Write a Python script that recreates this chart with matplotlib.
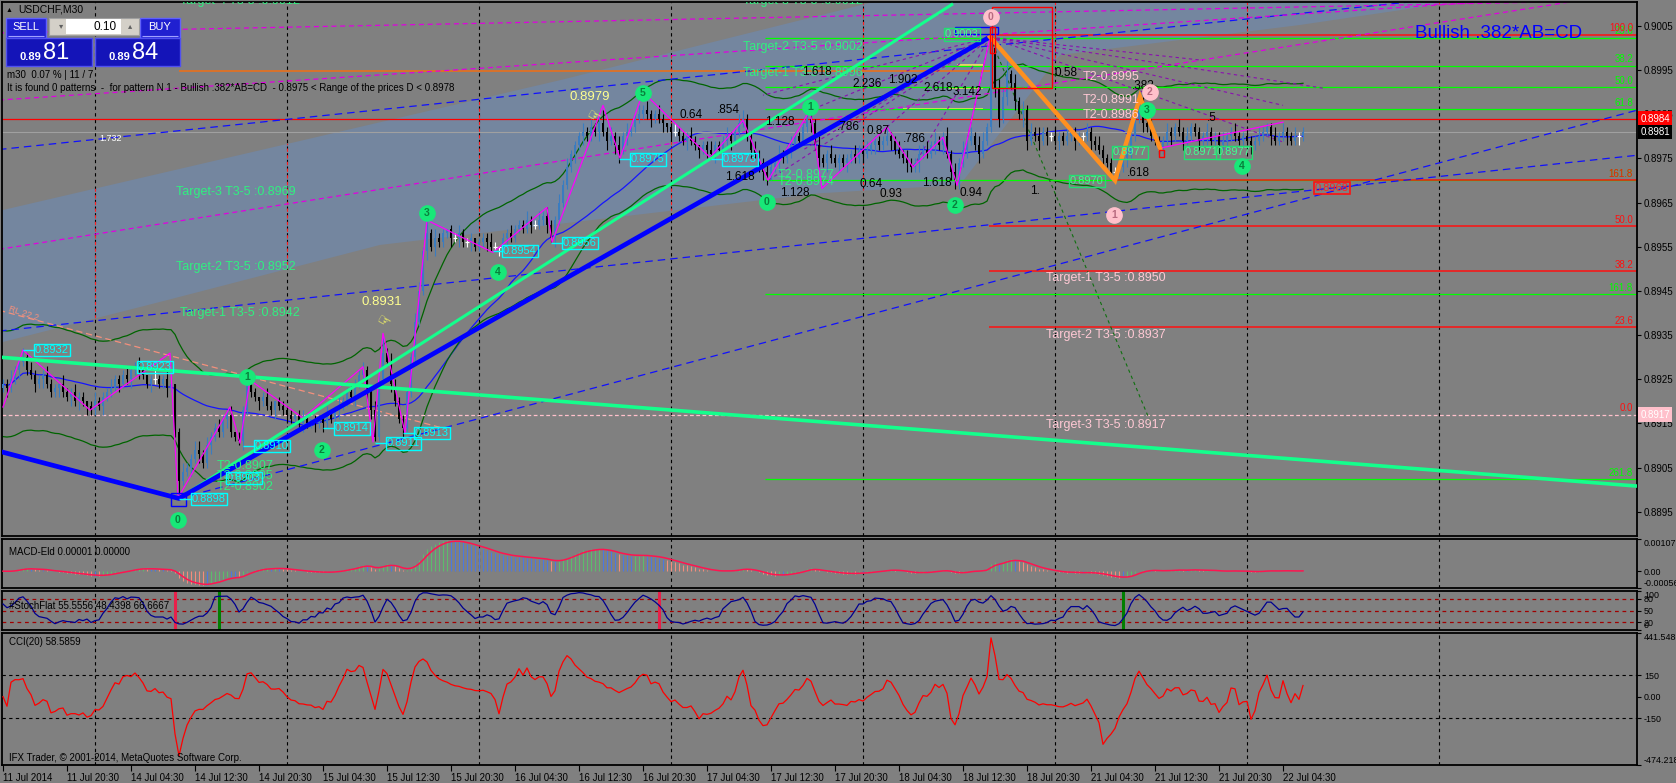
import numpy as np
import pandas as pd
import matplotlib
matplotlib.use("Agg")
import matplotlib.pyplot as plt
import matplotlib.transforms as mtrans
from matplotlib.patches import Rectangle, Polygon

plt.rcParams['font.family'] = ['Liberation Sans', 'DejaVu Sans']

W, H = 1676, 783
BG = '#808080'

# USDCHF M30, one bar each from 11 Jul 12:30 to 22 Jul 07:00, close in pips above 0.8900
close_pips = [
    24, 23, 25, 27, 29, 30, 27, 26, 24, 25,
    26, 24, 22, 23, 24, 22, 21, 22, 20, 21,
    20, 19, 18, 20, 19, 21, 22, 23, 25, 24,
    26, 25, 27, 28, 27, 26, 24, 25, 25, 24,
    25, 23, 24, 13, 2, 4, 5, 7, 9, 8,
    6, 10, 12, 14, 13, 16, 17, 13, 12, 11,
    18, 24, 22, 21, 20, 21, 19, 18, 20, 19,
    18, 17, 16, 17, 15, 16, 15, 16, 15, 16,
    15, 17, 16, 18, 19, 20, 22, 21, 24, 26,
    27, 22, 18, 12, 25, 31, 29, 24, 20, 16,
    14, 22, 30, 38, 45, 54, 58, 55, 57, 56,
    58, 59, 57, 57, 58, 56, 56, 57, 55, 56,
    57, 56, 55, 55, 55, 57, 58, 57, 59, 60,
    59, 61, 60, 60, 61, 62, 60, 57, 61, 65,
    69, 73, 76, 78, 80, 81, 80, 82, 81, 83,
    81, 79, 80, 78, 77, 80, 81, 82, 84, 85,
    86, 85, 84, 85, 84, 83, 82, 81, 81, 80,
    79, 80, 79, 78, 77, 78, 77, 76, 78, 77,
    79, 80, 79, 81, 83, 84, 80, 77, 76, 74,
    72, 71, 73, 74, 76, 75, 77, 78, 80, 79,
    82, 84, 83, 78, 75, 74, 76, 75, 74, 75,
    74, 75, 76, 75, 77, 76, 77, 78, 79, 78,
    79, 80, 79, 77, 76, 75, 74, 73, 74, 76,
    77, 76, 78, 79, 78, 80, 76, 72, 70, 74,
    77, 79, 80, 78, 76, 79, 82, 100, 91, 84,
    89, 94, 92, 88, 85, 86, 79, 81, 80, 79,
    81, 80, 80, 79, 80, 79, 80, 81, 79, 80,
    80, 81, 79, 78, 77, 75, 74, 72, 72, 73,
    75, 76, 80, 84, 86, 83, 82, 80, 79, 77,
    79, 81, 80, 82, 81, 79, 80, 82, 81, 79,
    80, 81, 79, 80, 78, 79, 80, 81, 80, 79,
    80, 79, 78, 79, 80, 81, 82, 80, 79, 80,
    81, 80, 79, 80, 80, 81,
]
first_open_pips = 23
# upper / lower shadow of each bar in pips
wick_up = ("1121121211" "1211021121" "1012111211" "1211210121" "1210121122"
           "1211211201" "1211012101" "1110121011" "1211211211" "2112141211"
           "1112213121" "1011211101" "1121011211" "1211212112" "1211121212"
           "3121212112" "1211210121" "1121011211" "1211221121" "1211211211"
           "1221211211" "1112112111" "1211212112" "1212112121" "2121221312"
           "2312121212" "1112112111" "1211211112" "1211231211" "1211212111"
           "1211121121" "1211211121" "211211")
wick_dn = ("1211211121" "2111211212" "1211121112" "1121211211" "1211411212"
           "1121112111" "2111211121" "1211121121" "2111211121" "1221121211"
           "2111112121" "1121211211" "1211212111" "1121112121" "1112121112"
           "1212312111" "1121121211" "1211212121" "1121111212" "2211211211"
           "1121212112" "1211121121" "1121112112" "1112121222" "1211211122"
           "1212132112" "1211211121" "1121121121" "1211121111" "1121121112"
           "1211212111" "1121111211" "121121")

date_pos = list(range(0, 321, 16))
date_labels = ['11 Jul 2014', '11 Jul 20:30', '14 Jul 04:30', '14 Jul 12:30', '14 Jul 20:30',
               '15 Jul 04:30', '15 Jul 12:30', '15 Jul 20:30', '16 Jul 04:30', '16 Jul 12:30',
               '16 Jul 20:30', '17 Jul 04:30', '17 Jul 12:30', '17 Jul 20:30', '18 Jul 04:30',
               '18 Jul 12:30', '18 Jul 20:30', '21 Jul 04:30', '21 Jul 12:30', '21 Jul 20:30',
               '22 Jul 04:30']
day_lines = [23, 71, 119, 167, 215, 263, 311, 359]
price_ticks = [0.9005, 0.8995, 0.8985, 0.8975, 0.8965, 0.8955, 0.8945, 0.8935, 0.8925, 0.8915, 0.8905, 0.8895]

# drawn objects, (bar, price)
band_i = [-1, 75, 139.25, 224.25, 374.25, 324.25, 264.25, 239.25, 204.25, 94.25, 41, -1]
band_p = [0.89631, 0.89791, 0.89927, 0.90119, 0.90119, 0.90052, 0.89984, 0.89690, 0.89671, 0.89554, 0.89429, 0.89332]
ab_i, ab_p = [-1, 44, 246.75], [0.89087, 0.8898, 0.90025]
cd_i, cd_p = [246.75, 278, 284.25, 289.25], [0.90025, 0.8970, 0.89889, 0.89773]
green_dn_i, green_dn_p = [-1, 408.5], [0.89300, 0.89008]
green_up_i, green_up_p = [44, 237.5], [0.8898, 0.9010]
blue_dash = [([44, 408.5], [0.8898, 0.89859]),
             ([-1, 408.5], [0.89359, 0.89757]),
             ([-1, 408.5], [0.89770, 0.90158])]
magenta_dash = [([-1, 408.5], [0.90034, 0.90108]),
                ([-1, 408.5], [0.89882, 0.90127]),
                ([-1, 408.5], [0.89544, 0.90128])]
salmon_dash_i, salmon_dash_p = [-1, 109.25], [0.89406, 0.89141]
zz_i = [0, 5, 21.75, 41.75, 43.75, 56.75, 59.25, 61.75, 75, 90, 92.5, 95, 100.5, 106, 122.5, 136,
        137.25, 150, 154.25, 160, 176.75, 185, 191.25, 201.75, 204.75, 221, 227.5, 235, 238.5,
        246.75, 278, 284.25, 289.25, 320]
zz_p = [0.89187, 0.89316, 0.89180, 0.89309, 0.88981, 0.89187, 0.89105, 0.89248, 0.89162, 0.89278,
        0.89108, 0.89354, 0.89128, 0.89610, 0.89537, 0.89639, 0.89560, 0.89870, 0.89750, 0.89900,
        0.89752, 0.89836, 0.89700, 0.89859, 0.89682, 0.89821, 0.89730, 0.89798, 0.89689, 0.90024,
        0.89701, 0.89889, 0.89773, 0.89832]
fan_apex = (246.75, 0.90024)
fan_ends = [(191.25, 0.8970), (201.75, 0.89859), (221, 0.89821), (227.5, 0.8973), (238.5, 0.89689),
            (190, 0.89893), (200, 0.89769), (320, 0.89787), (320, 0.89870), (300, 0.89972), (330, 0.89909)]
green_fan_end = (287, 0.8915)
orange_i, orange_p = [44, 246.75], 0.89947
yellow_segs = [(238.5, 245, 0.89961), (236.5, 245, 0.89909), (225, 245, 0.89861)]
ask, bid, zero_lvl = 0.8984, 0.8981, 0.8917
env_width = 0.0012

fib_green_start = 190.5
fib_green_p = [0.90023, 0.89960, 0.89911, 0.89862, 0.8970, 0.89443, 0.89023]
fib_green_lab = ['23.6', '38.2', '50.0', '61.8', '161.8', '161.8', '261.8']
fib_red_start = [248.5, 278, 246.5, 246.5, 246.5]
fib_red_p = [0.90030, 0.8970, 0.89596, 0.89495, 0.89368]
fib_red_lab = ['100.0', '161.8', '50.0', '38.2', '23.6']

green_texts = [(44.25, 0.90106, 'Target-4 T3-5 :0.9012'), (43.25, 0.89674, 'Target-3 T3-5 :0.8969'),
               (43.25, 0.89504, 'Target-2 T3-5 :0.8952'), (44.25, 0.89400, 'Target-1 T3-5 :0.8942'),
               (185, 0.90106, 'Target-3 T3-5 :0.9012'), (185, 0.90002, 'Target-2 T3-5 :0.9002'),
               (185, 0.89943, 'Target-1 T3-5 :0.8996'),
               (53.5, 0.89053, 'T2-0.8907'), (53.5, 0.89031, 'T3-0.8905'), (53.5, 0.89006, 'T2-0.8902'),
               (193.75, 0.89712, 'T2-0.8977'), (193.75, 0.89696, 'T2-0.8974')]
pink_texts = [(260.75, 0.89479, 'Target-1 T3-5 :0.8950'), (260.75, 0.89350, 'Target-2 T3-5 :0.8937'),
              (260.75, 0.89146, 'Target-3 T3-5 :0.8917'), (270, 0.89934, 'T2-0.8995'),
              (270, 0.89882, 'T2-0.8991'), (270, 0.89848, 'T2-0.8986')]
ratio_texts = [(199.75, 0.89945, '1.618'), (212.25, 0.89918, '2.236'), (221.25, 0.89927, '1.902'),
               (230, 0.89909, '2.618'), (237.5, 0.89900, '3.142'), (263, 0.89943, '0.58'),
               (208.5, 0.89821, '.786'), (216, 0.89812, '0.87'), (225, 0.89794, '.786'),
               (214.25, 0.89692, '0.64'), (219.25, 0.89669, '0.93'), (229.75, 0.89694, '1.618'),
               (239.25, 0.89671, '0.94'), (256.75, 0.89676, '1.'), (194.25, 0.89671, '1.128'),
               (281, 0.89717, '.618'), (282.25, 0.89914, '.382'), (301, 0.89841, '.5'),
               (169.25, 0.89848, '0.64'), (178.5, 0.89859, '.854'), (190.5, 0.89832, '1.128'),
               (180.5, 0.89707, '1.618')]
yellow_texts = [(141.75, 0.89889, '0.8979'), (89.75, 0.89424, '0.8931')]
hands = [(147.5, 0.89843), (95, 0.89379)]
cyan_boxes = [(8, 0.89316, '0.8932', 5), (33.75, 0.89278, '0.8923', None), (63, 0.89099, '0.8910', 60),
              (56, 0.89026, '0.8903', None), (47.25, 0.88979, '0.8898', 44), (83, 0.89139, '0.8914', 80),
              (96, 0.89105, '0.8911', 93), (103, 0.89128, '0.8913', 100), (125, 0.89540, '0.8954', 122.5),
              (140, 0.89558, '0.8956', 137), (157, 0.89748, '0.8975', 154), (180, 0.89748, '0.8973', 177)]
green_boxes = [(235.5, 0.90031, '0.9003'), (266.75, 0.89699, '0.8970'), (277.5, 0.89764, '0.8977'),
               (295.5, 0.89764, '0.8971'), (303.5, 0.89764, '0.8977')]
red_box_label = (328, 0.89683, '0.8968')
green_circles = [(43.75, 0.88931, '0'), (61, 0.89255, '1'), (79.75, 0.89090, '2'), (106, 0.89626, '3'),
                 (123.75, 0.89492, '4'), (160, 0.89898, '5'), (191, 0.89651, '0'), (201.75, 0.89866, '1'),
                 (238, 0.89644, '2'), (286, 0.89859, '3'), (309.75, 0.89733, '4')]
pink_circles = [(247, 0.9007, '0'), (277.75, 0.89621, '1'), (286.75, 0.89900, '2')]
rects = [(247.25, 262.25, 0.89909, 0.90092, 'red'), (42, 45.75, 0.88963, 0.88992, 'blue'),
         (238, 248.75, 0.90031, 0.90047, 'blue'), (289, 290.25, 0.89753, 0.89769, 'red'),
         (246.75, 248, 0.89988, 0.90047, 'red')]
stoch_marks = [(43, '#e8204a'), (54, '#008000'), (164, '#e8204a'), (280, '#008000')]

# ---- derived series
c = 0.89 + np.array(close_pips, float) / 10000
n = len(c)
o = np.r_[0.89 + first_open_pips / 10000, c[:-1]]
wu = np.array([int(ch) for ch in wick_up][:n] + [1] * max(0, n - len(wick_up)), float)
wd = np.array([int(ch) for ch in wick_dn][:n] + [1] * max(0, n - len(wick_dn)), float)
hi = np.maximum(o, c) + wu / 10000
lo = np.minimum(o, c) - wd / 10000
idx = np.arange(n)
cs = pd.Series(c)

def ema(x, k):
    return pd.Series(x).ewm(span=k, adjust=False).mean().values

ma_mid = cs.rolling(34, min_periods=1).mean().values
env_mid = ema(c, 20)
env_up, env_lo = env_mid + env_width, env_mid - env_width

macd = ema(c, 12) - ema(c, 26)
macd_sig = ema(macd, 4)
e13 = ema(c, 13)
ll = pd.Series(lo).rolling(8, min_periods=1).min()
hh = pd.Series(hi).rolling(8, min_periods=1).max()
stoch = (100 * (cs - ll).rolling(3, min_periods=1).sum() / (hh - ll).rolling(3, min_periods=1).sum()).fillna(50).values
tp = pd.Series((hi + lo + c) / 3)
md = tp.rolling(20, min_periods=1).apply(lambda w: np.mean(np.abs(w - w.mean())), raw=True)
cci = ((tp - tp.rolling(20, min_periods=1).mean()) / (0.015 * md)).replace([np.inf, -np.inf], 0).fillna(0).values

# ---- figure
fig = plt.figure(figsize=(W / 100, H / 100), dpi=100, facecolor=BG)

def px_axes(x0, y0, x1, y1, lsize=7):
    a = fig.add_axes([x0 / W, 1 - y1 / H, (x1 - x0) / W, (y1 - y0) / H])
    a.set_facecolor(BG)
    for s in a.spines.values():
        s.set_color('black')
        s.set_linewidth(1.3)
    a.set_xlim(-0.25, 408.5)
    a.yaxis.tick_right()
    a.tick_params(axis='y', length=3, width=0.8, pad=2, labelsize=lsize, colors='black')
    a.tick_params(axis='x', bottom=False, labelbottom=False)
    for g in day_lines:
        a.axvline(g, color='black', lw=0.8, ls=(0, (3, 3)), zorder=0.5)
    return a

ax = px_axes(2, 2, 1637, 536)
ax_macd = px_axes(2, 539, 1637, 588, 6.4)
ax_st = px_axes(2, 591, 1637, 630, 6.4)
ax_cci = px_axes(2, 633, 1637, 765, 6.4)

ax.set_ylim(0.88895, 0.90104)
ax.set_yticks(price_ticks)
ax.set_yticklabels(['%.4f' % v for v in price_ticks])

# band and red separators inside it
band = Polygon(list(zip(band_i, band_p)), closed=True, fc='#74869f', ec='none', zorder=0.2)
ax.add_patch(band)
for g in day_lines:
    ln, = ax.plot([g, g], [0.8880, 0.9020], color='#ff2020', lw=0.8, ls=(0, (3, 3)), zorder=0.6)
    ln.set_clip_path(band)

# moving averages
ax.plot(idx, ma_mid, color='#1414ff', lw=0.9, zorder=1)
ax.plot(idx, env_up, color='#006400', lw=0.9, zorder=1)
ax.plot(idx, env_lo, color='#006400', lw=0.9, zorder=1)

# horizontal price lines
ax.axhline(ask, color='#ff0000', lw=0.9, zorder=1)
ax.axhline(bid, color='#a0a0a0', lw=0.8, zorder=1)
ax.axhline(zero_lvl, color='#ffc0cb', lw=0.9, ls=(0, (3, 2)), zorder=1)
ax.hlines(orange_p, orange_i[0], orange_i[1], color='#e8701c', lw=1.2, zorder=1.2)
for a0, a1, pv in yellow_segs:
    ax.hlines(pv, a0, a1, color='#ffe060', lw=1.2, zorder=1.2)

# fib levels
for pv, lab in zip(fib_green_p, fib_green_lab):
    ax.hlines(pv, fib_green_start, 408.5, color='#00ff00', lw=0.9, zorder=1.3)
    ax.text(407.5, pv + 0.00003, lab, color='#00ff00', fontsize=7, ha='right', va='bottom', zorder=5)
for st, pv, lab in zip(fib_red_start, fib_red_p, fib_red_lab):
    ax.hlines(pv, st, 408.5, color='#ff1010', lw=1.1, zorder=1.4)
    ax.text(407.5, pv + 0.00003, lab, color='#ff1010', fontsize=7, ha='right', va='bottom', zorder=5)
ax.text(407.5, zero_lvl + 0.00003, '0.0', color='#ff1010', fontsize=7, ha='right', va='bottom', zorder=5)

# trend / channel lines
for xs, ys in blue_dash:
    ax.plot(xs, ys, color='#1010ff', lw=0.9, ls=(0, (6, 4)), zorder=1.5)
for xs, ys in magenta_dash:
    ax.plot(xs, ys, color='#e000e0', lw=0.9, ls=(0, (4, 3)), zorder=1.5)
ax.plot(salmon_dash_i, salmon_dash_p, color='#f4907c', lw=0.9, ls=(0, (5, 3)), zorder=1.5)
for ex, ey in fan_ends:
    ax.plot([fan_apex[0], ex], [fan_apex[1], ey], color='#8a10b0', lw=0.8, ls=(0, (3, 3)), zorder=1.5)
ax.plot([fan_apex[0], green_fan_end[0]], [fan_apex[1], green_fan_end[1]], color='#107010', lw=0.8,
        ls=(0, (3, 3)), zorder=1.5)

# candles
up = c > o
dn = c < o
dj = ~(up | dn)
for m, col in ((up, '#3a7cc0'), (dn, 'black')):
    ax.vlines(idx[m], lo[m], hi[m], color=col, lw=0.8, zorder=3)
    ax.bar(idx[m], (c - o)[m], bottom=o[m], width=0.7, color=col, linewidth=0, zorder=3)
ax.vlines(idx[dj], lo[dj], hi[dj], color='white', lw=0.8, zorder=3)
ax.hlines(c[dj], idx[dj] - 0.4, idx[dj] + 0.4, color='white', lw=0.9, zorder=3)

# zigzag and thick pattern lines
ax.plot(zz_i, zz_p, color='#ff00ff', lw=0.9, zorder=3.5)
ax.plot(green_dn_i, green_dn_p, color='#14ff8c', lw=2.6, zorder=3.6, solid_capstyle='butt')
ax.plot(green_up_i, green_up_p, color='#14ff8c', lw=2.2, zorder=3.6, solid_capstyle='butt')
ax.plot(ab_i, ab_p, color='#0000ff', lw=3.4, zorder=4, solid_capstyle='butt')
ax.plot(cd_i, cd_p, color='#ff9020', lw=3.2, zorder=4, solid_joinstyle='miter')

for x0, x1, y0, y1, col in rects:
    ax.add_patch(Rectangle((x0, y0), x1 - x0, y1 - y0, fill=False, ec=col, lw=1, zorder=4.5))

# texts
for xi, pv, s in green_texts:
    ax.text(xi, pv, s, color='#30f080', fontsize=9, va='center', ha='left', zorder=5, clip_on=True)
for xi, pv, s in pink_texts:
    ax.text(xi, pv, s, color='#ffc8d4', fontsize=9, va='center', ha='left', zorder=5)
for xi, pv, s in ratio_texts:
    ax.text(xi, pv, s, color='black', fontsize=8.5, va='center', ha='left', zorder=5)
ax.text(24, 0.89794, '1.732', color='white', fontsize=6.5, va='center', ha='left', zorder=5)
for xi, pv, s in yellow_texts:
    ax.text(xi, pv, s, color='#ffff90', fontsize=9.5, va='center', ha='left', zorder=5)
for xi, pv in hands:
    ax.text(xi, pv, '\u261e', color='#ffff60', fontsize=11, va='center', ha='center', rotation=-30, zorder=5)
ax.text(1, 0.89400, 'RL 22.2', color='#f4907c', fontsize=6.5, rotation=-18, va='center', ha='left', zorder=5)

for xi, pv, s, piv in cyan_boxes:
    if piv is not None:
        ax.hlines(pv, piv, xi, color='#00ffff', lw=1, zorder=4.6)
    ax.text(xi, pv, s, color='#00ffff', fontsize=8, va='center', ha='left', zorder=5,
            bbox=dict(boxstyle='square,pad=0.12', fc='none', ec='#00ffff', lw=1))
for xi, pv, s in green_boxes:
    ax.text(xi, pv, s, color='#40ff90', fontsize=8, va='center', ha='left', zorder=5,
            bbox=dict(boxstyle='square,pad=0.12', fc='none', ec='#20e070', lw=1))
ax.text(red_box_label[0], red_box_label[1], red_box_label[2], color='#ff2020', fontsize=8, va='center',
        ha='left', zorder=5, bbox=dict(boxstyle='square,pad=0.12', fc='none', ec='#ff1010', lw=1.2))

for xi, pv, s in green_circles:
    ax.plot(xi, pv, 'o', ms=11, mfc='#18e878', mec='#18e878', zorder=6)
    ax.text(xi, pv, s, color='#08803c', fontsize=7.5, fontweight='bold', ha='center', va='center', zorder=6.1)
for xi, pv, s in pink_circles:
    ax.plot(xi, pv, 'o', ms=11, mfc='#ffc0cb', mec='#ffc0cb', zorder=6)
    ax.text(xi, pv, s, color='#b86a80', fontsize=7.5, fontweight='bold', ha='center', va='center', zorder=6.1)

ax.text(1580 / 1635, 1 - 32 / 534, 'Bullish .382*AB=CD', transform=ax.transAxes, color='#0000ff',
        fontsize=13.5, ha='right', va='center', zorder=6)

# price tags on the scale
bt = mtrans.blended_transform_factory(ax.transAxes, ax.transData)
for pv, txt, fc in ((ask, '0.8984', '#ff0000'), (bid, '0.8981', '#000000'), (zero_lvl, '0.8917', '#ffc0cb')):
    ax.text(1.002, pv, txt, transform=bt, color='white', fontsize=7, va='center', ha='left', clip_on=False,
            bbox=dict(boxstyle='square,pad=0.22', fc=fc, ec='none'), zorder=7)

# ---- MACD-Eld
ax_macd.set_ylim(-0.00056, 0.00107)
ax_macd.set_yticks([0.00107, 0.0, -0.00056])
ax_macd.set_yticklabels(['0.00107', '0.00', '-0.00056'])
dm = np.r_[0, np.diff(macd)]
de = np.r_[0, np.diff(e13)]
cols = np.where((dm > 0) & (de > 0), '#5cbc6c', np.where((dm < 0) & (de < 0), '#f48c7c', '#4c78e0'))
ax_macd.vlines(idx, 0, macd, colors=cols, lw=0.8, zorder=2)
ax_macd.plot(idx, macd_sig, color='#ff1450', lw=1.1, zorder=3)
ax_macd.text(0.004, 0.74, 'MACD-Eld 0.00001 0.00000', transform=ax_macd.transAxes, fontsize=7, va='center')

# ---- Stochastic
ax_st.set_ylim(0, 100)
ax_st.set_yticks([100, 80, 50, 20, 0])
ax_st.set_yticklabels(['100', '80', '50', '20', '0'])
for lv in (80, 50, 20):
    ax_st.axhline(lv, color='#a00000', lw=0.9, ls=(0, (3, 3)), zorder=1)
for mi, col in stoch_marks:
    ax_st.axvline(mi, color=col, lw=2.2, zorder=2)
ax_st.plot(idx, stoch, color='#000090', lw=0.9, zorder=3)
ax_st.text(0.004, 0.62, '#StochFlat 55.5556 48.4398 66.6667', transform=ax_st.transAxes, fontsize=7,
           va='center', zorder=4)

# ---- CCI
ax_cci.set_ylim(-474.218, 441.5488)
ax_cci.set_yticks([441.5488, 150, 0, -150, -474.218])
ax_cci.set_yticklabels(['441.5488', '150', '0.00', '-150', '-474.218'])
for lv in (150, -150):
    ax_cci.axhline(lv, color='black', lw=0.8, ls=(0, (3, 3)), zorder=1)
ax_cci.plot(idx, cci, color='#ff0000', lw=0.9, zorder=3)
ax_cci.text(0.004, 0.93, 'CCI(20) 58.5859', transform=ax_cci.transAxes, fontsize=7, va='center')
ax_cci.text(0.004, 0.05, 'IFX Trader, \u00a9 2001-2014, MetaQuotes Software Corp.', transform=ax_cci.transAxes,
            fontsize=7, va='center')
ax_cci.tick_params(axis='x', bottom=True, labelbottom=True, length=4, width=0.8, pad=1.5, labelsize=7,
                   colors='black')
ax_cci.set_xticks(date_pos)
ax_cci.set_xticklabels(date_labels, ha='left')

for a in (ax_macd, ax_st, ax_cci):
    labs = a.get_yticklabels()
    labs[0].set_va('top')
    labs[-1].set_va('bottom')

# ---- trade panel and header texts (screen overlay)
ov = fig.add_axes([0, 0, 1, 1], zorder=20)
ov.set_xlim(0, W)
ov.set_ylim(H, 0)
ov.axis('off')
ov.text(6, 10, '\u25b2', fontsize=5, va='center')
ov.text(18, 10, 'USDCHF,M30', fontsize=7.5, va='center')
for x0, x1, lab in ((6, 46, 'SELL'), (140, 180, 'BUY')):
    ov.add_patch(Rectangle((x0, 18), x1 - x0, 20, fc='#2020d0', ec='#6060ff', lw=1))
    ov.hlines(36, x0 + 2, x1 - 2, color='#a0a0ff', lw=0.8)
    ov.text((x0 + x1) / 2, 27, lab, color='white', fontsize=8, ha='center', va='center')
ov.add_patch(Rectangle((49, 18), 90, 17, fc='#d4d0c8', ec='#a0a0a0', lw=0.8))
ov.add_patch(Rectangle((66, 19), 55, 15, fc='white', ec='none'))
ov.text(63, 27, '\u25be', fontsize=6, color='#606060', ha='right', va='center')
ov.text(130, 27, '\u25b4', fontsize=6, color='#606060', ha='center', va='center')
ov.text(117, 27, '0.10', fontsize=8.5, ha='right', va='center')
for x0, x1, big in ((6, 92, '81'), (95, 180, '84')):
    ov.add_patch(Rectangle((x0, 38), x1 - x0, 28, fc='#1414b8', ec='#5050f0', lw=1))
    ov.text(x0 + 13, 57, '0.89', color='white', fontsize=8, fontweight='bold', ha='left', va='center')
    ov.text(x0 + 37, 53, big, color='white', fontsize=17, ha='left', va='center')
ov.text(7, 75, 'm30  0.07 % | 11 / 7', fontsize=7, va='center')
ov.text(7, 88, 'It is found 0 patterns  -  for pattern N 1 - Bullish .382*AB=CD  - 0.8975 < Range of the prices D < 0.8978',
        fontsize=7, va='center')

fig.savefig('out.png', dpi=100, facecolor=BG)
